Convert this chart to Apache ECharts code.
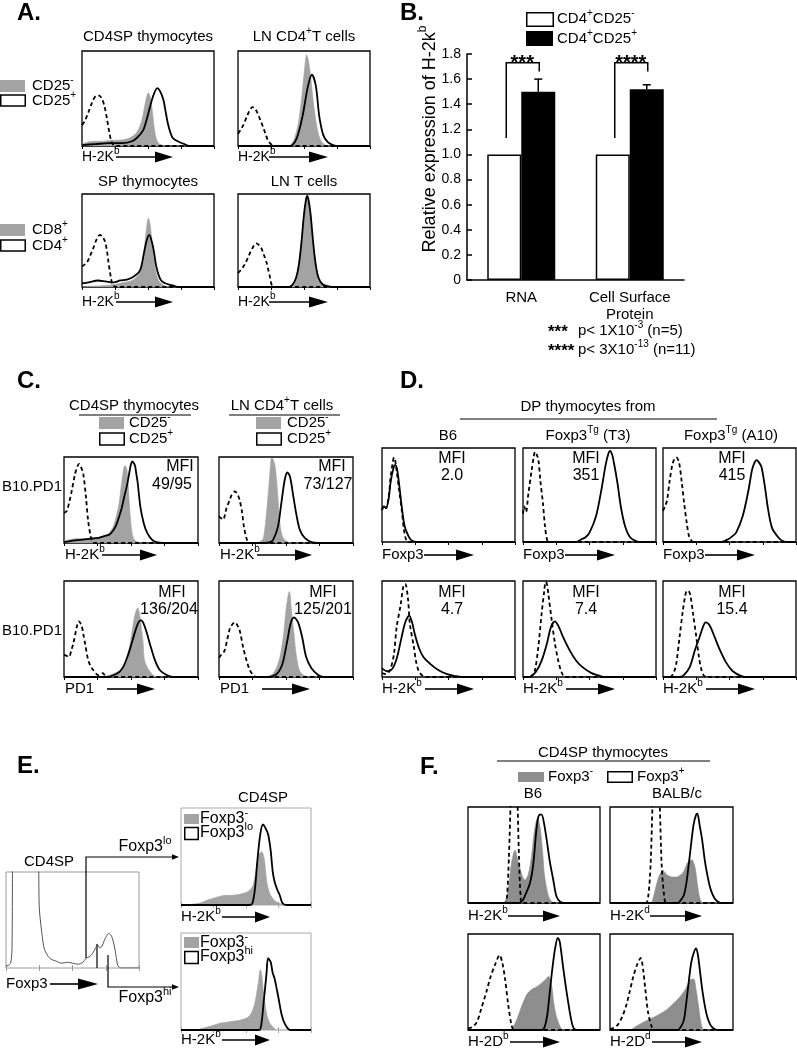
<!DOCTYPE html>
<html><head><meta charset="utf-8">
<script src="https://cdn.jsdelivr.net/npm/echarts@6/dist/echarts.min.js"></script>
<style>html,body{margin:0;padding:0;background:#fff}#c{width:797px;height:1050px}</style>
</head><body><div id="c"></div>
<script>
// ---------- Panel A histograms (x: % of channel range, y: % of box height) ----------
const a1Gray = [[0,2],[4,4],[10,5],[16,5],[22,6],[28,6],[33,7],[37,9],[40,12],[43,18],[45.5,28],[47.5,42],[49,52],[50.3,56],[51.6,52],[53,40],[54.5,22],[56,9],[58,3],[61,1],[64,0],[100,0]];
const a1Solid = [[0,1],[10,2],[20,3],[30,3],[38,5],[42,9],[46.5,17],[49,28],[51.5,41],[54,53],[57,61],[59,58],[61.6,49],[63.5,35],[65,24],[67,14],[69,8],[74,4],[77.5,2],[81,0],[100,0]];
const a1Dashed = [[0,22],[2,26],[5,36],[8,47],[11,53],[13,53],[15,50],[17,42],[19,28],[21,12],[22.5,4],[24,1],[26,0],[100,0]];
const a2Gray = [[0,0],[38,0],[41,3],[43,9],[45.5,22],[48,48],[50.5,82],[52,96],[53,92],[54.5,80],[57,47],[59.5,22],[62,8],[65,2],[68,0],[100,0]];
const a2Solid = [[0,0],[40,0],[43,4],[45.5,12],[49,32],[53,63],[56,75],[59,63],[61.5,32],[64.5,12],[68,4],[72,1],[76,0],[100,0]];
const a2Dashed = [[0,13],[2,17],[4,22],[7,32],[9,38],[11,41],[13,39],[15,34],[17,27],[19,20],[21,12],[23,5],[25,2],[27,0],[100,0]];
const a3Gray = [[0,0],[10,1],[20,2],[26,3],[32,5],[36,6],[40,9],[43,14],[45,22],[46.5,34],[48,52],[49.3,68],[50.3,74],[51.5,68],[53,50],[54.5,30],[56,16],[58,7],[60,4],[63,1],[66,0],[100,0]];
const a3Solid = [[0,4],[5,5],[12,7],[18,6],[24,5],[29,7],[34,8],[39,11],[44,18],[47,37],[49,50],[51,56],[53,48],[54.5,38],[56,24],[58,13],[60,7],[63,4],[68,2],[74,0],[100,0]];
const a3Dashed = [[0,22],[2,24],[4,27],[6,33],[8.6,42],[11,51],[13.6,56],[15.5,54],[17.4,49],[19,38],[20,27],[21,18],[22,9],[23,3],[24,1],[26,0],[100,0]];
const a4Gray = [[0,0],[38,0],[41,2],[44,10],[46,24],[48,48],[50,78],[51.5,93],[52.5,97],[53.5,92],[55,78],[57,48],[59,24],[61,10],[64,3],[68,0],[100,0]];
const a4Solid = [[0,0],[38,0],[41,2],[44,10],[46,23],[48,47],[50,78],[51.5,94],[52.5,98],[53.5,93],[55,78],[57,47],[59,23],[61,10],[64,3],[68,1],[72,0],[100,0]];
const a4Dashed = [[0,15],[2,18],[5,24],[8,33],[11,42],[14,47],[16,45],[17.6,42],[19.5,35],[21.7,26],[23,18],[24,12],[25,5],[26,1],[28,0],[100,0]];

// ---------- Panel B bar chart ----------
const bCategories = ['RNA', 'Cell Surface\nProtein'];
const bNeg = [1.0, 1.0];          // CD4+CD25-
const bPos = [1.5, 1.52];         // CD4+CD25+
const bErr = [0.1, 0.035];
const bSigLabels = ['***', '****'];
const bBracketLow = [1.13, 1.13];
const bBracketTop = [1.73, 1.73];
const bBracketRight = [1.66, 1.66];

// ---------- Panel C ----------
const c1Gray = [[0,2],[4,4],[10,5],[16,5],[22,6],[27,7],[31,9],[34,12],[37,20],[39,31],[41,45],[43,70],[44.5,86],[45.5,90],[47,85],[48,65],[49,40],[50.5,15],[52,5],[55,1],[60,0],[100,0]];
const c1Solid = [[0,1],[8,3],[14,4],[20,5],[26,6],[30,8],[34,10],[37,15],[39,21],[41,30],[43,40],[45,54],[47,67],[49,84],[50,92],[51,95],[52,93],[53,90],[54,80],[55,70],[57,42],[59.5,23],[62,12],[65.6,4],[69,1],[74,0],[100,0]];
const c1Dashed = [[0,35],[2,37],[4,48],[5.7,60],[8.2,80],[10,89],[11.2,92],[12.5,89],[14.4,80],[16.4,53],[18,26],[20,7],[21.4,1],[23,0],[100,0]];
const c2Gray = [[0,0],[28,0],[31,2],[33,5],[35,28],[37.5,72],[38.5,92],[39.3,99],[40.5,97],[42,88],[44,53],[45.5,22],[47.5,7],[50.5,2],[54,0],[100,0]];
const c2Solid = [[0,0],[34,0],[38,1],[40.5,4],[44,19],[46.5,46],[49,73],[51,82],[53,77],[55.5,54],[58,31],[60.4,15],[64,6],[69,1],[74,0],[100,0]];
const c2Dashed = [[0,31],[1.5,29],[3,27],[5.7,41],[8,50],[9.5,56],[12,60],[13.5,57],[15,52],[17,38],[18.6,19],[20.6,5],[22,1],[24,0],[100,0]];
const c3Gray = [[0,0],[28,0],[34,2],[38,4],[42,7],[45,13],[47,21],[49,32],[50.5,45],[52,58],[53,65],[55,72],[56,68],[57,60],[58,48],[59,37],[60,18],[63,8],[66.6,2],[70,0],[100,0]];
const c3Solid = [[0,0],[33,0],[37,2],[41,5],[44,10],[46.5,18],[49,28],[53,47],[55,55],[57,59],[58.5,58],[60.4,52],[62,45],[64,35],[68,17],[71.6,7],[76.6,2],[81,0],[100,0]];
const c3Dashed = [[0,23],[2,22],[3.7,21],[5.5,28],[7,35],[9.5,52],[11,58],[13,54],[14.5,44],[15.7,35],[18,18],[20,11],[22,7],[25.6,2],[27.5,3],[29,4],[31,1],[33,0],[100,0]];
const c4Gray = [[0,0],[32,0],[37,1],[40,3],[43,10],[45.5,21],[48,42],[50,70],[51.5,84],[52.5,89],[53.3,84],[54,70],[56,45],[57.5,24],[60,7],[63,2],[67,0],[100,0]];
const c4Solid = [[0,0],[36,0],[40,1],[43,3],[46,9],[48,17],[51,38],[53.5,56],[56,62],[59,57],[62,42],[65,21],[69,9],[74,2],[78,0],[100,0]];
const c4Dashed = [[0,20],[2,24],[4,27],[6,38],[8,50],[10,55],[12,57],[14,53],[15.7,47],[18,31],[20.6,17],[23,7],[25.6,2],[28,0],[100,0]];
const cMfi = ['49/95', '73/127', '136/204', '125/201'];

// ---------- Panel D ----------
const d1Solid = [[0,34],[1.5,38],[3,36],[5,46],[6.5,64],[8.5,78],[10,82],[11.5,76],[13,60],[15,36],[17,17],[20,6],[22,2],[26,0],[100,0]];
const d1Dashed = [[0,34],[1.5,39],[3,36],[5,48],[6.5,69],[8,84],[9,90],[10,86],[11,76],[13,54],[15,32],[16.5,13],[18,3],[19.5,0],[100,0]];
const d2Solid = [[0,0],[40,0],[44,3],[47,5],[50,10],[55,28],[59,56],[62,81],[64,93],[65.4,97],[67,93],[68.4,84],[71,63],[73.5,38],[76.7,17],[80.5,5],[85,1],[89,0],[100,0]];
const d2Dashed = [[0,30],[1,38],[2.3,32],[4,51],[6.5,76],[8,90],[9,96],[10,94],[11.5,88],[13,66],[15,41],[16.5,17],[18,3],[19.5,0],[100,0]];
const d3Solid = [[0,0],[44,0],[49,3],[52,6],[55,10],[60,28],[64,53],[67,77],[69,85],[70.4,87],[72,85],[74,80],[76.6,59],[79,35],[82,15],[86.6,5],[90,1],[94,0],[100,0]];
const d3Dashed = [[0,33],[1.5,38],[3,44],[5,65],[7,82],[8.5,88],[10,90],[12,85],[14,65],[16,40],[18,19],[19.6,6],[21.6,1],[23,0],[100,0]];
const d4Solid = [[0,9],[4,6],[7.5,8],[11,19],[14.5,40],[17.5,57],[20.5,64],[22.6,57],[24.6,45],[27.6,31],[31,21],[36,14],[42.6,7],[49,3],[55,1],[60,0],[100,0]];
const d4Dashed = [[0,4],[3,3],[6,7],[9,24],[11,52],[14,75],[16,94],[17.5,97],[19.5,82],[21,55],[24,31],[25.5,17],[27.6,6],[30,2],[32,0],[100,0]];
const d5Solid = [[0,0],[5,0],[6.5,1],[10,6],[14,17],[18,35],[21,52],[24,58],[27,52],[30,42],[35,28],[40,17],[45,10],[51.6,4],[58,1],[62,0],[100,0]];
const d5Dashed = [[0,0],[5,0],[7,2],[9,7],[11.5,31],[14,66],[16,90],[17,99],[18,97],[19,87],[21.6,59],[24,35],[26.5,17],[29,5],[31.6,0],[100,0]];
const d6Solid = [[0,0],[12,0],[15,1],[20,10],[24,28],[27.6,42],[30,52],[32,57],[35,54],[39,41],[42.5,29],[47.5,15],[52.5,6],[59,1],[64,0],[100,0]];
const d6Dashed = [[0,0],[5,0],[6.5,1],[8.5,6],[10,14],[12.5,42],[15,70],[16.5,83],[18,90],[19.5,89],[20.6,85],[22.6,66],[25,42],[27,21],[29,7],[31,1],[33,0],[100,0]];
const dMfi = ['2.0', '351', '415', '4.7', '7.4', '15.4'];

// ---------- Panel E ----------
const eFoxp3 = [[0,2],[2,3],[3.5,5],[4.5,20],[5.5,140],[24,140],[25,64],[27,36],[29,19],[33,10],[38,7],[42,5],[46,6],[50,5],[54,4],[58,6],[60,10],[63,12],[65,15],[67,20],[69,24],[70.5,21],[72,22],[74,29],[75.5,33],[77,36],[78.5,35],[80,31],[82,19],[84,3],[86,0],[100,0]];
const e1Gray = [[0,0],[4.4,0],[10,1],[14.6,2],[20,5],[25,7],[30,9],[35,10],[40,10],[45,11],[48,12],[51.7,14],[54,17],[55.6,21],[57,30],[58,38],[60,52],[62,55],[64,48],[65,36],[66,24],[67.5,15],[69,10],[71,6],[73.6,3],[77,1],[80,0],[100,0]];
const e1Solid = [[0,0],[53,0],[55,2],[57,18],[58.7,45],[61,73],[63,83],[64.7,80],[67,73],[69,56],[70.5,35],[72,24],[74,16],[76,10],[78,2],[81,0],[100,0]];
const e2Gray = [[0,0],[12,0],[14.6,1],[20,3],[25,5],[30,7],[35,8],[40,9],[45,10],[50,12],[53,15],[55,20],[57,29],[59.5,49],[61,62],[62,58],[63.6,37],[66,16],[68,8],[70,4],[74,0],[100,0]];
const e2Solid = [[0,0],[60,0],[62,8],[63.6,29],[65.7,57],[67,74],[69,70],[70.5,59],[72,53],[75,33],[77.4,16],[80,6],[84,0],[100,0]];

// ---------- Panel F ----------
const f1Gray = [[0,0],[27,0],[28.5,3],[30.5,14],[33,42],[35.6,55],[38,43],[40.7,30],[43,24],[45.7,30],[48,48],[50,72],[51.5,84],[52.5,88],[54.5,80],[56.6,52],[58,28],[61,7],[63.6,1],[66,0],[100,0]];
const f1Solid = [[0,0],[38,0],[41,2],[43,7],[47,21],[49.5,41],[51.5,72],[53,88],[54.5,92],[55.8,92],[57.6,83],[59.6,66],[62,43],[64.6,24],[67,7],[70,1],[73,0],[100,0]];
const f1Dashed = [[0,0],[28,0],[29.5,6],[31,48],[32.3,105],[33,130],[36.5,130],[37.5,105],[38.6,48],[40,3],[41,0],[100,0]];
const f2Gray = [[0,0],[33,0],[35,5],[37,15],[39,25],[41,31],[43,34],[45,31],[48,28],[51,27],[54,27],[57,29],[59,31],[61,36],[63,42],[65,44],[66.5,45],[68,42],[69.5,35],[71,20],[72.5,8],[74,2],[76,0],[100,0]];
const f2Solid = [[0,0],[55,0],[57,2],[60,8],[62,20],[64,40],[66,62],[68,82],[70,92],[71,93],[73,80],[75,65],[77,45],[79,30],[81,18],[83,10],[85,5],[87,2],[90,0],[100,0]];
const f2Dashed = [[0,0],[29,0],[31,6],[33,40],[34.5,100],[35.5,130],[39.5,130],[40.5,100],[42,40],[44,8],[46,0],[100,0]];
const f3Gray = [[0,0],[32,0],[34,3],[37,11],[40.7,25],[44.5,37],[48,42],[52,45],[55.8,49],[59.6,54],[61,56],[63.4,46],[65,28],[67,14],[70,3],[72,0],[100,0]];
const f3Solid = [[0,0],[56,0],[58,3],[60,15],[62,40],[64,65],[66,85],[68,96],[69.5,92],[72,66],[74,46],[76,28],[78,12],[80,2],[83,0],[100,0]];
const f3Dashed = [[0,2],[3,3],[6.6,8],[10,22],[14,40],[17,55],[20.5,68],[24,78],[26,70],[28,54],[30.5,26],[33,5],[35,0],[100,0]];
const f4Gray = [[0,0],[17,0],[19,2],[24,6],[30,10],[35,13],[41,17],[46,21],[51,27],[55,32],[59,38],[62,44],[65,52],[68,53],[70,42],[72,25],[73,15],[75,2],[77,0],[100,0]];
const f4Solid = [[0,0],[55,0],[57,2],[60,10],[62,28],[64,50],[66,70],[68,80],[70,85],[71.5,78],[73,63],[75,42],[77,26],[79,14],[81,7],[83,3],[85,1],[88,0],[100,0]];
const f4Dashed = [[0,1],[2.5,2],[6,5],[10,14],[13.5,27],[16,40],[19,56],[22,68],[25,75],[27,62],[28.5,45],[31,18],[34,3],[36,0],[100,0]];

// ================= builder =================
const FONT = '"Liberation Sans", Arial, Helvetica, sans-serif';
const GRAY = '#a3a3a3';
const GRAY_F = '#8e8e8e';
const grids = [], xAxes = [], yAxes = [], series = [], graphics = [];

function addHist(box, curves, opt) {
  opt = opt || {};
  const gi = grids.length;
  grids.push({left: box[0], top: box[1], width: box[2], height: box[3], show: true,
    borderColor: opt.border || '#000', borderWidth: opt.bw || 1.3, backgroundColor: 'rgba(0,0,0,0)'});
  const tickStyle = {color: opt.tickColor || '#000', width: 1};
  const xi = xAxes.length;
  xAxes.push({gridIndex: gi, type: 'value', min: 0, max: 100, interval: 25, position: 'top',
    axisLine: {show: false}, axisTick: {show: opt.ticks !== false, inside: true, length: 3, lineStyle: tickStyle},
    axisLabel: {show: false}, splitLine: {show: false}});
  if (opt.bottomTicks) {
    xAxes.push({gridIndex: gi, type: 'value', min: 0, max: 100, interval: 25, position: 'bottom',
      axisLine: {show: false}, axisTick: {show: true, inside: true, length: 3, lineStyle: tickStyle},
      axisLabel: {show: false}, splitLine: {show: false}});
  }
  const yi = yAxes.length;
  yAxes.push({gridIndex: gi, type: 'value', min: 0, max: 100, show: false});
  const base = {type: 'line', xAxisIndex: xi, yAxisIndex: yi, smooth: 0.3, symbol: 'none', showSymbol: false, silent: true, clip: true};
  const fill = opt.fill || GRAY;
  if (curves.gray) series.push(Object.assign({}, base, {data: curves.gray, lineStyle: {width: 0.6, color: fill}, areaStyle: {color: fill, opacity: 1}, z: 2}));
  if (curves.solid) series.push(Object.assign({}, base, {data: curves.solid, lineStyle: {width: opt.lw || 1.8, color: opt.lineColor || '#000'}, z: 3}));
  if (curves.dashed) series.push(Object.assign({}, base, {data: curves.dashed, lineStyle: {width: 1.8, color: '#000', type: [4, 3]}, z: 4}));
}

function rich(size) {
  return { s: {fontSize: Math.round(size * 0.68), fontFamily: FONT, fill: '#000', padding: [0, 0, Math.round(size * 0.75), 0]} };
}
function T(x, y, text, o) {
  o = o || {};
  const size = o.size || 15;
  const al = o.align || 'left';
  graphics.push({type: 'text', x: x, y: y, rotation: o.rot || 0, silent: true, z: 10,
    style: {text: text, fill: '#000', fontSize: size, fontFamily: FONT, fontWeight: o.bold ? 'bold' : 'normal',
      align: al, verticalAlign: 'middle', textAlign: al, textVerticalAlign: 'middle', rich: rich(size)}});
}
function R(x, y, w, h, fill, stroke, lw) {
  graphics.push({type: 'rect', silent: true, z: 10, shape: {x: x, y: y, width: w, height: h},
    style: {fill: fill, stroke: stroke || null, lineWidth: stroke ? (lw || 1.5) : 0}});
}
function Ln(x1, y1, x2, y2, w, color) {
  graphics.push({type: 'line', silent: true, z: 10, shape: {x1: x1, y1: y1, x2: x2, y2: y2},
    style: {stroke: color || '#000', lineWidth: w || 1}});
}
function PL(points, w, color) {
  graphics.push({type: 'polyline', silent: true, z: 10, shape: {points: points},
    style: {stroke: color || '#000', lineWidth: w || 1, fill: null}});
}
function Tri(x1, x2, y, hh) {
  graphics.push({type: 'polygon', silent: true, z: 10, shape: {points: [[x1, y - hh], [x2, y], [x1, y + hh]]},
    style: {fill: '#000'}});
}
function xlabel(L, y, text, a, size, mid, end) {
  T(L, y, text, {size: size || 15});
  mid = mid || 74; end = end || 92;
  Ln(L + a, y, L + mid, y, 1.6);
  Tri(L + mid, L + end, y, 5.5);
}

// ---------------- Panel A ----------------
T(17, 13, 'A.', {size: 24, bold: true});
T(148, 37, 'CD4SP thymocytes', {align: 'center'});
T(304, 37, 'LN CD4{s|+}T cells', {align: 'center'});
R(0, 80, 25, 12, GRAY);
R(0.75, 95, 24.5, 11, '#fff', '#000', 1.5);
T(32, 86, 'CD25{s|-}');
T(32, 101, 'CD25{s|+}');
addHist([82, 51, 132, 95], {gray: a1Gray, solid: a1Solid, dashed: a1Dashed});
addHist([238, 51, 132, 95], {gray: a2Gray, solid: a2Solid, dashed: a2Dashed});
xlabel(82, 157, 'H-2K{s|b}', 34, 14, 73, 91);
xlabel(238, 157, 'H-2K{s|b}', 31, 14, 71, 90);
T(148, 182, 'SP thymocytes', {align: 'center'});
T(304, 182, 'LN T cells', {align: 'center'});
R(0, 224, 25, 12, GRAY);
R(0.75, 240, 24.5, 11, '#fff', '#000', 1.5);
T(32, 230, 'CD8{s|+}');
T(32, 246, 'CD4{s|+}');
addHist([82, 194, 132, 93], {gray: a3Gray, solid: a3Solid, dashed: a3Dashed});
addHist([238, 194, 132, 93], {gray: a4Gray, solid: a4Solid, dashed: a4Dashed});
xlabel(82, 302, 'H-2K{s|b}', 34, 14, 73, 91);
xlabel(238, 302, 'H-2K{s|b}', 31, 14, 71, 90);

// ---------------- Panel B ----------------
T(400, 13, 'B.', {size: 24, bold: true});
R(526.75, 12.75, 26.5, 13.5, '#fff', '#000', 1.5);
T(557, 19, 'CD4{s|+}CD25{s|-}');
R(526, 31, 27, 15, '#000');
T(557, 39, 'CD4{s|+}CD25{s|+}');
T(430, 139, 'Relative expression of H-2k{s|b}', {size: 18, align: 'center', rot: Math.PI / 2});
T(548, 332, '***', {size: 17, bold: true});
T(578, 331, 'p< 1X10{s|-3} (n=5)');
T(548, 351, '****', {size: 17, bold: true});
T(578, 350, 'p< 3X10{s|-13} (n=11)');

const bGi = grids.length;
grids.push({left: 467, top: 54, width: 217, height: 226, show: false});
const bXi = xAxes.length;
xAxes.push({gridIndex: bGi, type: 'category', data: bCategories,
  axisLine: {lineStyle: {color: '#000', width: 1.5}},
  axisTick: {inside: true, length: 9, lineStyle: {color: '#000', width: 1.5}},
  axisLabel: {color: '#000', fontSize: 15, fontFamily: FONT, margin: 9, lineHeight: 17}});
const bYi = yAxes.length;
yAxes.push({gridIndex: bGi, type: 'value', min: 0, max: 1.8, interval: 0.2,
  axisLine: {show: true, lineStyle: {color: '#000', width: 1.5}},
  axisTick: {show: true, inside: true, length: 5, lineStyle: {color: '#000', width: 1.5}},
  axisLabel: {color: '#000', fontSize: 14, fontFamily: FONT, margin: 6, formatter: v => v === 0 ? '0' : v.toFixed(1)},
  splitLine: {show: false}});
series.push({type: 'bar', name: 'CD4+CD25-', xAxisIndex: bXi, yAxisIndex: bYi, data: bNeg, barWidth: 34, barGap: '0%',
  itemStyle: {color: '#fff', borderColor: '#000', borderWidth: 1.5}, silent: true});
series.push({type: 'bar', name: 'CD4+CD25+', xAxisIndex: bXi, yAxisIndex: bYi, data: bPos, barWidth: 34, barGap: '0%',
  itemStyle: {color: '#000'}, silent: true});
series.push({type: 'custom', xAxisIndex: bXi, yAxisIndex: bYi, clip: false, silent: true, z: 5,
  data: bCategories.map((c, i) => [i, bPos[i], bErr[i], bBracketLow[i], bBracketTop[i], bBracketRight[i]]),
  encode: {x: 0, y: 1},
  renderItem: function (params, api) {
    const i = params.dataIndex;
    const c = api.coord([i, 0])[0];
    const h = 17;
    const yBar = api.coord([i, api.value(1)])[1];
    const yErr = api.coord([i, api.value(1) + api.value(2)])[1];
    const yLo = api.coord([i, api.value(3)])[1];
    const yTop = api.coord([i, api.value(4)])[1];
    const yR = api.coord([i, api.value(5)])[1];
    const st = {stroke: '#000', lineWidth: 1.5, fill: null};
    return {type: 'group', children: [
      {type: 'line', shape: {x1: c + h, y1: yBar, x2: c + h, y2: yErr}, style: st},
      {type: 'line', shape: {x1: c + h - 4, y1: yErr, x2: c + h + 4, y2: yErr}, style: st},
      {type: 'polyline', shape: {points: [[c - h + 2, yLo], [c - h + 2, yTop], [c + h + 1, yTop], [c + h + 1, yR]]}, style: st},
      {type: 'text', x: c + 1, y: yTop + 1, style: {text: bSigLabels[i], fill: '#000', fontSize: 20, fontWeight: 'bold', fontFamily: FONT,
        align: 'center', verticalAlign: 'middle', textAlign: 'center', textVerticalAlign: 'middle'}}
    ]};
  }});

// ---------------- Panel C ----------------
T(17, 381, 'C.', {size: 24, bold: true});
T(134, 406, 'CD4SP thymocytes', {align: 'center'});
Ln(79, 415, 191, 415, 1.2);
R(99, 417, 25, 12, GRAY);
R(99.75, 433, 24.5, 12, '#fff', '#000', 1.5);
T(129, 423, 'CD25{s|-}');
T(129, 439, 'CD25{s|+}');
T(282, 406, 'LN CD4{s|+}T cells', {align: 'center'});
Ln(229, 415, 340, 415, 1.2);
R(256, 417, 25, 12, GRAY);
R(256.75, 433, 24.5, 12, '#fff', '#000', 1.5);
T(287, 423, 'CD25{s|-}');
T(287, 439, 'CD25{s|+}');
T(2, 487, 'B10.PD1');
T(2, 631, 'B10.PD1');
addHist([64, 457, 134, 86], {gray: c1Gray, solid: c1Solid, dashed: c1Dashed});
addHist([219, 457, 134, 86], {gray: c2Gray, solid: c2Solid, dashed: c2Dashed});
addHist([64, 581, 134, 96], {gray: c3Gray, solid: c3Solid, dashed: c3Dashed});
addHist([219, 581, 134, 96], {gray: c4Gray, solid: c4Solid, dashed: c4Dashed});
T(180, 467, 'MFI', {size: 16, align: 'center'});
T(172, 485, cMfi[0], {size: 16, align: 'center'});
T(332, 467, 'MFI', {size: 16, align: 'center'});
T(328, 485, cMfi[1], {size: 16, align: 'center'});
T(172, 593, 'MFI', {size: 16, align: 'center'});
T(169, 610, cMfi[2], {size: 16, align: 'center'});
T(323, 593, 'MFI', {size: 16, align: 'center'});
T(323, 610, cMfi[3], {size: 16, align: 'center'});
xlabel(65, 555, 'H-2K{s|b}', 37, 15, 75, 92);
xlabel(220, 555, 'H-2K{s|b}', 37, 15, 75, 92);
xlabel(65, 689, 'PD1', 42, 15, 72, 90);
xlabel(220, 689, 'PD1', 42, 15, 72, 90);

// ---------------- Panel D ----------------
T(400, 381, 'D.', {size: 24, bold: true});
T(588, 407, 'DP thymocytes from', {align: 'center'});
Ln(460, 419, 717, 419, 1.1);
T(448, 436, 'B6', {align: 'center'});
T(588, 436, 'Foxp3{s|Tg} (T3)', {align: 'center'});
T(731, 436, 'Foxp3{s|Tg} (A10)', {align: 'center'});
addHist([382, 448, 133, 94], {solid: d1Solid, dashed: d1Dashed});
addHist([523, 448, 133, 94], {solid: d2Solid, dashed: d2Dashed});
addHist([663, 448, 133, 94], {solid: d3Solid, dashed: d3Dashed});
addHist([382, 581, 133, 96], {solid: d4Solid, dashed: d4Dashed});
addHist([523, 581, 133, 96], {solid: d5Solid, dashed: d5Dashed});
addHist([663, 581, 133, 96], {solid: d6Solid, dashed: d6Dashed});
const dMfiPos = [[452, 459, 476], [586, 459, 476], [732, 459, 476], [452, 593, 610], [586, 593, 610], [732, 593, 610]];
dMfiPos.forEach((p, i) => { T(p[0], p[1], 'MFI', {size: 16, align: 'center'}); T(p[0], p[2], dMfi[i], {size: 16, align: 'center'}); });
[382, 523, 663].forEach(L => xlabel(L, 555, 'Foxp3', 42, 15, 74, 92));
[382, 523, 663].forEach(L => xlabel(L, 689, 'H-2K{s|b}', 43, 15, 75, 92));

// ---------------- Panel E ----------------
T(17, 766, 'E.', {size: 24, bold: true});
T(263, 798, 'CD4SP', {align: 'center'});
T(49, 862, 'CD4SP', {align: 'center'});
addHist([6, 872, 133, 96], {solid: eFoxp3}, {border: '#9a9a9a', bw: 1, tickColor: '#999', bottomTicks: true, lw: 1, lineColor: '#555'});
xlabel(6, 984, 'Foxp3', 44, 15, 72, 92);
PL([[86, 958], [86, 857], [173, 857]], 1.2);
Tri(172, 179, 857, 2.8);
PL([[108, 955], [108, 987], [173, 987]], 1.2);
Tri(172, 179, 987, 2.8);
Ln(97, 944, 97, 968, 1.5, '#333');
T(145, 847, 'Foxp3{s|lo}', {align: 'center', size: 16});
T(145, 998, 'Foxp3{s|hi}', {align: 'center', size: 16});
addHist([181, 808, 130, 97], {gray: e1Gray, solid: e1Solid}, {border: '#aaa', bw: 1, tickColor: '#aaa', bottomTicks: true});
addHist([181, 933, 130, 97], {gray: e2Gray, solid: e2Solid}, {border: '#aaa', bw: 1, tickColor: '#aaa', bottomTicks: true});
R(184, 814, 15, 10, GRAY);
R(184.75, 827.5, 13.5, 12, '#fff', '#000', 1.5);
T(200, 819, 'Foxp3{s|-}', {size: 16});
T(200, 833, 'Foxp3{s|lo}', {size: 16});
R(184, 937, 15, 11, GRAY);
R(184.75, 951.5, 13.5, 12, '#fff', '#000', 1.5);
T(200, 943, 'Foxp3{s|-}', {size: 16});
T(200, 957, 'Foxp3{s|hi}', {size: 16});
xlabel(181, 917, 'H-2K{s|b}', 41, 15, 74, 89);
xlabel(181, 1040, 'H-2K{s|b}', 41, 15, 74, 89);

// ---------------- Panel F ----------------
T(420, 767, 'F.', {size: 24, bold: true});
T(603, 753, 'CD4SP thymocytes', {align: 'center'});
Ln(497, 761, 710, 761, 1.2);
R(518, 772, 26, 10, GRAY_F);
T(548, 777, 'Foxp3{s|-}');
R(607.75, 771.75, 24.5, 10.5, '#fff', '#000', 1.5);
T(637, 777, 'Foxp3{s|+}');
T(533, 794, 'B6', {align: 'center'});
T(677, 794, 'BALB/c', {align: 'center'});
addHist([468, 807, 132, 96], {gray: f1Gray, solid: f1Solid, dashed: f1Dashed}, {fill: GRAY_F, ticks: false});
addHist([610, 807, 123, 96], {gray: f2Gray, solid: f2Solid, dashed: f2Dashed}, {fill: GRAY_F, ticks: false});
addHist([468, 934, 132, 96], {gray: f3Gray, solid: f3Solid, dashed: f3Dashed}, {fill: GRAY_F, ticks: false});
addHist([610, 934, 123, 96], {gray: f4Gray, solid: f4Solid, dashed: f4Dashed}, {fill: GRAY_F, ticks: false});
xlabel(468, 916, 'H-2K{s|b}', 40, 15, 75, 92);
xlabel(610, 916, 'H-2K{s|d}', 40, 15, 75, 92);
xlabel(468, 1042, 'H-2D{s|b}', 42, 15, 75, 92);
xlabel(610, 1042, 'H-2D{s|d}', 42, 15, 75, 92);

const chart = echarts.init(document.getElementById('c'), null, {renderer: 'canvas', width: 797, height: 1050});
chart.setOption({
  backgroundColor: '#fff',
  animation: false,
  textStyle: {fontFamily: FONT},
  grid: grids, xAxis: xAxes, yAxis: yAxes, series: series, graphic: graphics
});
</script></body></html>
